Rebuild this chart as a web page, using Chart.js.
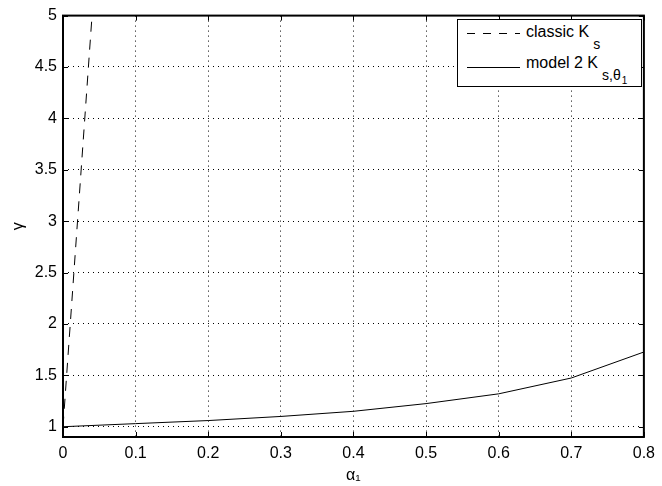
<!DOCTYPE html>
<html>
<head>
<meta charset="utf-8">
<script src="https://cdn.jsdelivr.net/npm/chart.js@4"></script>
<style>
html, body { margin: 0; padding: 0; background: #fff; }
#wrap { position: relative; width: 662px; height: 486px; font-family: "Liberation Sans", Arial, sans-serif; color: #000; }
#legend { position: absolute; left: 457px; top: 19px; width: 183px; height: 66px; border: 1.5px solid #000; background: #fff; }
.sample { position: absolute; left: 9px; width: 53px; height: 1px; background: #000; }
.dash { background: repeating-linear-gradient(to right, #000 0 8px, transparent 8px 16px); }
.label { position: absolute; left: 68px; font-size: 16px; line-height: 18px; white-space: nowrap; }
.sub { position: relative; top: 12px; font-size: 14px; margin-left: 4px; }
.sub2 { position: relative; top: 4px; font-size: 10px; margin-left: 1px; }
</style>
</head>
<body>
<div id="wrap">
  <canvas id="chart" width="662" height="486"></canvas>
  <div id="legend">
    <div class="sample dash" style="top:13px"></div>
    <div class="label" style="top:3px">classic K<span class="sub">s</span></div>
    <div class="sample" style="top:47px"></div>
    <div class="label" style="top:34px">model 2 K<span class="sub">s,θ<span class="sub2">1</span></span></div>
  </div>
</div>
<script>
// tick values of both axes
const xTicks = [0, 0.1, 0.2, 0.3, 0.4, 0.5, 0.6, 0.7, 0.8];
const yTicks = [1, 1.5, 2, 2.5, 3, 3.5, 4, 4.5, 5];

// classic K_s (leaves the plot almost straight away)
const classicAlpha = [0, 0.04];
const classicGamma = [1, 5];

// model 2 K_{s,theta_1}
const modelAlpha = [0, 0.1, 0.2, 0.3, 0.4, 0.5, 0.6, 0.7, 0.8];
const modelGamma = [1, 1.03, 1.06, 1.10, 1.15, 1.225, 1.32, 1.474, 1.727];

const toPoints = (xs, ys) => xs.map((x, i) => ({ x: x, y: ys[i] }));

// box round the axes with small inward ticks, matlab style
const boxPlugin = {
    id: "box",
    afterDraw(chart) {
        const ctx = chart.ctx;
        const area = chart.chartArea;
        const tickLen = 5;
        ctx.save();
        ctx.strokeStyle = "#000";
        ctx.lineWidth = 1;
        ctx.beginPath();
        chart.scales.x.ticks.forEach(t => {
            const px = Math.round(chart.scales.x.getPixelForValue(t.value)) + 0.5;
            ctx.moveTo(px, area.bottom);
            ctx.lineTo(px, area.bottom - tickLen);
            ctx.moveTo(px, area.top);
            ctx.lineTo(px, area.top + tickLen);
        });
        chart.scales.y.ticks.forEach(t => {
            const py = Math.round(chart.scales.y.getPixelForValue(t.value)) + 0.5;
            ctx.moveTo(area.left, py);
            ctx.lineTo(area.left + tickLen, py);
            ctx.moveTo(area.right, py);
            ctx.lineTo(area.right - tickLen, py);
        });
        ctx.stroke();
        ctx.lineWidth = 2;
        ctx.strokeRect(area.left, area.top, area.right - area.left, area.bottom - area.top);
        ctx.restore();
    }
};

Chart.defaults.font.family = '"Liberation Sans", Arial, sans-serif';
Chart.defaults.font.size = 16;
Chart.defaults.color = "#000";

const chart = new Chart(document.getElementById("chart"), {
    type: "line",
    data: {
        datasets: [
            {
                label: "classic K_s",
                data: toPoints(classicAlpha, classicGamma),
                borderColor: "#000",
                borderWidth: 1,
                borderDash: [10, 8],
                pointRadius: 0,
                tension: 0
            },
            {
                label: "model 2 K_s,theta_1",
                data: toPoints(modelAlpha, modelGamma),
                borderColor: "#000",
                borderWidth: 1,
                pointRadius: 0,
                tension: 0
            }
        ]
    },
    options: {
        responsive: false,
        animation: false,
        layout: { padding: { top: 10, right: 12, left: 0, bottom: 0 } },
        plugins: { legend: { display: false }, tooltip: { enabled: false } },
        scales: {
            x: {
                type: "linear",
                min: 0,
                max: 0.8,
                afterBuildTicks: s => { s.ticks = xTicks.map(v => ({ value: v })); },
                afterFit: s => { s.height = 49; },
                ticks: { padding: 7, maxRotation: 0, autoSkip: false, callback: v => String(v) },
                grid: { color: "#000", lineWidth: 1, drawTicks: false },
                border: { display: false, dash: [1, 4] },
                title: { display: true, text: "α₁", font: { size: 16 }, padding: { top: 0, bottom: 1 } }
            },
            y: {
                min: 0.9,
                max: 5,
                afterBuildTicks: s => { s.ticks = yTicks.map(v => ({ value: v })); },
                afterFit: s => { s.width = 63; },
                ticks: { padding: 6, autoSkip: false, callback: v => String(v) },
                grid: { color: "#000", lineWidth: 1, drawTicks: false },
                border: { display: false, dash: [1, 4] },
                title: { display: true, text: "γ", font: { size: 16 }, padding: { top: 9, bottom: 0 } }
            }
        }
    },
    plugins: [boxPlugin]
});
</script>
</body>
</html>
